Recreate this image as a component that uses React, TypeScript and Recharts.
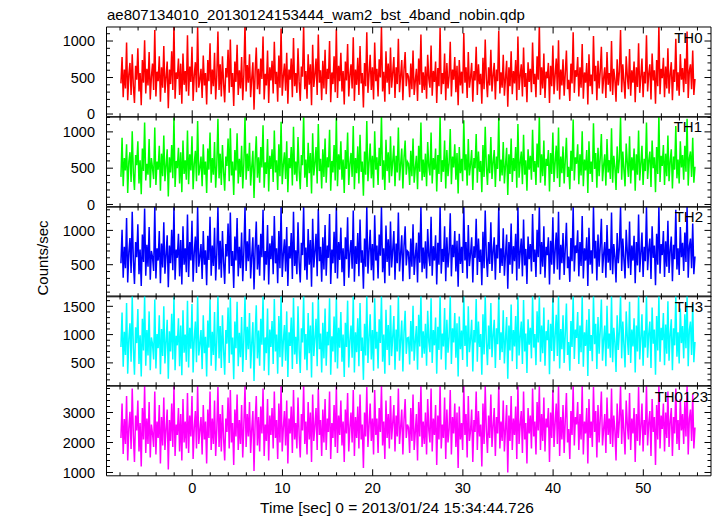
import { LineChart, Line, XAxis, YAxis } from 'recharts';

// light curve bins, seconds from 2013/01/24 15:34:44.726
const T_START = -7.9;
const T_BIN = 0.125;

const TH0 = [
  420, 780, 230, 610, 350, 980, 190, 540, 700, 260, 820, 380, 150, 660, 470,
  900, 310, 560, 120, 740, 430, 1010, 280, 620, 390, 850, 200, 510, 690, 330,
  1150, 240, 580, 450, 790, 170, 640, 360, 930, 290, 500, 720, 80, 610, 410,
  860, 330, 1240, 210, 570, 480, 760, 260, 690, 140, 830, 400, 590, 310, 1080,
  250, 650, 440, 920, 180, 530, 710, 300, 1190, 360, 470, 620, 220, 800, 390,
  560, 130, 740, 450, 970, 270, 610, 380, 840, 200, 520, 1130, 330, 680, 240,
  790, 420, 160, 630, 500, 880, 290, 1020, 370, 560, 110, 720, 440, 950, 260,
  600, 350, 780, 190, 540, 1250, 310, 670, 430, 820, 230, 490, 710, 60, 580,
  910, 340, 620, 270, 760, 480, 1060, 200, 550, 390, 870, 150, 640, 460, 730,
  280, 990, 410, 580, 170, 800, 360, 1170, 250, 520, 690, 320, 840, 140, 610,
  470, 760, 230, 1040, 380, 560, 290, 900, 440, 180, 650, 510, 1210, 340, 590,
  210, 820, 400, 680, 120, 950, 370, 540, 760, 260, 1090, 430, 600, 190, 730,
  350, 880, 270, 620, 480, 1000, 160, 570, 410, 790, 300, 1160, 220, 660, 450,
  840, 310, 590, 130, 720, 460, 960, 240, 530, 680, 350, 1050, 180, 610, 400,
  770, 260, 930, 420, 560, 90, 700, 380, 1120, 290, 540, 810, 330, 640, 200,
  980, 450, 620, 240, 750, 500, 1200, 310, 580, 170, 860, 430, 690, 270, 910,
  360, 560, 780, 220, 640, 410, 1030, 300, 520, 740, 190, 610, 850, 380, 560,
  510, 230, 690, 340, 870, 260, 450, 620, 180, 760, 400, 1090, 290, 570, 330,
  650, 210, 810, 480, 360, 940, 250, 590, 440, 720, 150, 630, 380, 1180, 270,
  560, 410, 830, 190, 700, 350, 520, 990, 240, 610, 470, 780, 300, 660, 120,
  740, 390, 580, 280, 1110, 430, 640, 220, 850, 360, 500, 700, 170, 590, 460,
  920, 260, 680, 410, 550, 140, 770, 340, 1020, 480, 230, 640, 390, 880, 310,
  530, 700, 200, 610, 450, 1140, 280, 570, 360, 810, 250, 490, 730, 100, 640,
  380, 860, 270, 590, 420, 740, 190, 1060, 330, 520, 680, 240, 910, 370, 560,
  160, 710, 440, 620, 300, 980, 410, 550, 230, 790, 470, 1230, 260, 640, 350,
  830, 220, 580, 490, 700, 150, 660, 380, 940, 270, 530, 760, 320, 1010, 200,
  610, 390, 750, 250, 560, 870, 340, 470, 180, 690, 420, 1120, 290, 600, 510,
  780, 240, 640, 360, 960, 210, 570, 430, 700, 130, 820, 380, 540, 270, 1070,
  450, 660, 190, 730, 350, 590, 920, 280, 490, 640, 220, 850, 400, 560, 310,
  1000, 260, 620, 470, 170, 750, 390, 580, 1150, 300, 680, 440, 210, 790, 520,
  340, 890, 250, 600, 430, 720, 160, 640, 370, 970, 290, 510, 760, 230, 580,
  420, 1080, 310, 550, 680, 200, 830, 460, 600, 140, 740, 380, 1210, 270, 620,
  490, 770, 230, 650, 350, 900, 280, 540, 710, 190, 610, 440, 1030, 320, 570,
  250, 820, 470, 630, 300, 760, 410, 1130, 220, 590, 680, 340, 870, 260, 480,
];

const TH1 = [
  380, 920, 250, 640, 470, 830, 160, 590, 720, 310, 1010, 430, 200, 680, 540,
  870, 290, 610, 140, 770, 460, 1130, 330, 560, 410, 900, 230, 640, 500, 350,
  1060, 270, 590, 480, 810, 190, 700, 390, 950, 320, 530, 760, 110, 650, 440,
  820, 360, 1200, 240, 600, 500, 780, 290, 720, 170, 880, 420, 610, 340, 1020,
  280, 690, 470, 940, 210, 560, 740, 320, 1150, 400, 500, 660, 250, 830, 410,
  590, 160, 770, 480, 990, 300, 640, 410, 860, 230, 550, 1180, 360, 700, 270,
  820, 450, 190, 660, 530, 910, 320, 1050, 400, 590, 130, 750, 470, 980, 290,
  630, 380, 810, 220, 570, 1220, 340, 700, 460, 850, 260, 520, 740, 90, 610,
  940, 370, 650, 300, 790, 510, 1090, 230, 580, 420, 900, 180, 670, 490, 760,
  310, 1020, 440, 610, 200, 830, 390, 1140, 280, 550, 720, 350, 870, 170, 640,
  500, 790, 260, 1070, 410, 590, 320, 930, 470, 210, 680, 540, 1230, 370, 620,
  240, 850, 430, 710, 150, 980, 400, 570, 790, 290, 1110, 460, 630, 220, 760,
  380, 910, 300, 650, 510, 1030, 190, 600, 440, 820, 330, 1190, 250, 690, 480,
  870, 340, 620, 160, 750, 490, 990, 270, 560, 710, 380, 1080, 210, 640, 430,
  800, 290, 960, 450, 590, 120, 730, 410, 1150, 320, 570, 840, 360, 670, 230,
  1010, 480, 650, 270, 780, 530, 1230, 340, 610, 200, 890, 460, 720, 300, 940,
  390, 590, 810, 250, 670, 440, 1060, 330, 550, 770, 220, 640, 880, 410, 590,
  560, 270, 740, 390, 910, 300, 500, 670, 210, 810, 450, 1130, 330, 620, 380,
  700, 250, 860, 520, 400, 990, 290, 640, 480, 770, 180, 680, 420, 1210, 310,
  610, 450, 880, 220, 750, 390, 570, 1040, 280, 660, 510, 830, 340, 710, 150,
  790, 430, 630, 320, 1160, 470, 690, 260, 900, 400, 550, 750, 200, 640, 500,
  970, 300, 730, 450, 600, 170, 820, 380, 1070, 520, 270, 690, 430, 930, 350,
  580, 750, 240, 660, 490, 1190, 320, 620, 400, 860, 290, 540, 780, 130, 690,
  420, 910, 310, 640, 460, 790, 230, 1110, 370, 570, 730, 280, 960, 410, 610,
  190, 760, 480, 670, 340, 1030, 450, 600, 270, 840, 510, 1220, 300, 690, 390,
  880, 260, 630, 530, 750, 180, 710, 420, 990, 310, 580, 810, 360, 1060, 240,
  660, 430, 800, 290, 610, 920, 380, 520, 210, 740, 460, 1170, 330, 650, 560,
  830, 280, 690, 400, 1010, 250, 620, 470, 750, 160, 870, 420, 590, 310, 1120,
  490, 710, 230, 780, 390, 640, 970, 320, 540, 690, 260, 900, 440, 610, 350,
  1050, 300, 670, 510, 200, 800, 430, 630, 1200, 340, 730, 480, 250, 840, 570,
  380, 940, 290, 650, 470, 770, 190, 690, 410, 1020, 330, 560, 810, 270, 630,
  460, 1130, 350, 600, 730, 240, 880, 500, 650, 170, 790, 420, 1230, 310, 670,
  530, 820, 270, 700, 390, 950, 320, 590, 760, 220, 660, 480, 1080, 360, 620,
  290, 870, 510, 680, 340, 810, 450, 1180, 260, 640, 730, 380, 920, 300, 520,
];

const TH2 = [
  520, 1010, 310, 760, 450, 1180, 240, 680, 890, 380, 1270, 560, 220, 830, 610,
  1090, 360, 720, 190, 940, 540, 1320, 340, 790, 470, 1050, 280, 700, 610, 410,
  1340, 300, 740, 560, 990, 230, 810, 460, 1120, 370, 640, 930, 170, 780, 520,
  1010, 420, 1340, 280, 720, 600, 950, 330, 860, 210, 1060, 500, 740, 390, 1230,
  320, 830, 560, 1140, 250, 680, 910, 380, 1340, 470, 610, 800, 290, 990, 500,
  710, 200, 920, 570, 1200, 340, 780, 480, 1040, 270, 660, 1340, 430, 850, 310,
  990, 540, 220, 800, 620, 1100, 370, 1260, 480, 700, 160, 910, 560, 1180, 330,
  760, 450, 970, 260, 690, 1340, 410, 840, 550, 1020, 300, 630, 900, 140, 740,
  1130, 430, 790, 340, 950, 610, 1300, 270, 700, 500, 1080, 210, 810, 580, 920,
  360, 1210, 520, 740, 230, 990, 450, 1340, 320, 660, 870, 400, 1050, 190, 770,
  590, 960, 290, 1270, 480, 710, 360, 1120, 540, 240, 820, 640, 1340, 420, 750,
  280, 1020, 500, 860, 180, 1170, 460, 690, 950, 330, 1310, 550, 760, 250, 900,
  430, 1080, 340, 780, 600, 1240, 220, 720, 520, 980, 380, 1340, 300, 830, 570,
  1040, 390, 740, 190, 900, 580, 1190, 310, 670, 860, 440, 1290, 250, 770, 510,
  960, 330, 1160, 530, 710, 150, 880, 470, 1340, 370, 690, 1010, 420, 800, 270,
  1220, 560, 780, 300, 940, 630, 1340, 390, 740, 230, 1070, 540, 870, 340, 1130,
  460, 710, 990, 280, 810, 520, 1260, 400, 660, 930, 260, 770, 1060, 490, 700,
  680, 290, 880, 470, 1090, 350, 620, 820, 240, 970, 530, 1340, 390, 750, 440,
  840, 300, 1020, 620, 480, 1200, 340, 770, 560, 930, 210, 820, 500, 1340, 370,
  730, 540, 1060, 260, 900, 460, 680, 1250, 330, 790, 610, 990, 400, 850, 180,
  950, 510, 760, 380, 1340, 560, 830, 300, 1080, 480, 660, 900, 240, 770, 600,
  1170, 350, 880, 540, 720, 200, 980, 450, 1290, 620, 320, 830, 510, 1120, 410,
  700, 900, 280, 790, 590, 1340, 380, 740, 480, 1030, 340, 650, 940, 150, 830,
  500, 1100, 370, 770, 550, 950, 270, 1340, 440, 680, 880, 330, 1160, 490, 730,
  220, 910, 580, 800, 400, 1240, 540, 720, 320, 1010, 610, 1340, 360, 830, 470,
  1060, 310, 760, 640, 900, 210, 850, 500, 1190, 370, 700, 970, 430, 1270, 280,
  790, 520, 960, 350, 730, 1110, 450, 620, 250, 890, 550, 1340, 400, 780, 670,
  1000, 330, 830, 480, 1210, 300, 740, 560, 900, 190, 1040, 500, 710, 370, 1340,
  590, 850, 270, 940, 470, 770, 1170, 380, 650, 830, 310, 1080, 530, 730, 420,
  1260, 360, 800, 610, 240, 960, 520, 760, 1340, 410, 880, 580, 300, 1010, 680,
  450, 1130, 350, 780, 560, 920, 230, 830, 490, 1230, 390, 670, 970, 320, 760,
  550, 1340, 420, 720, 880, 290, 1060, 600, 780, 200, 950, 500, 1340, 370, 800,
  640, 990, 320, 840, 470, 1140, 380, 710, 910, 260, 790, 580, 1300, 430, 740,
  350, 1050, 610, 820, 410, 970, 540, 1340, 310, 770, 880, 450, 1100, 360, 620,
];

const TH3 = [
  780, 1390, 430, 1050, 640, 1560, 310, 920, 1200, 520, 1680, 760, 290, 1130, 850,
  1450, 480, 990, 260, 1280, 720, 1680, 450, 1080, 630, 1410, 370, 950, 830, 560,
  1620, 400, 1010, 760, 1340, 300, 1100, 620, 1500, 490, 870, 1260, 220, 1060, 700,
  1370, 560, 1680, 370, 980, 810, 1290, 440, 1160, 280, 1430, 680, 1000, 520, 1600,
  420, 1120, 750, 1540, 330, 920, 1230, 510, 1680, 630, 830, 1080, 390, 1340, 670,
  960, 260, 1250, 770, 1620, 450, 1050, 640, 1400, 360, 890, 1680, 580, 1150, 410,
  1340, 730, 290, 1080, 840, 1480, 500, 1660, 650, 950, 210, 1230, 760, 1580, 440,
  1030, 600, 1310, 340, 930, 1680, 550, 1140, 740, 1380, 400, 850, 1220, 180, 1000,
  1520, 580, 1070, 450, 1280, 820, 1680, 360, 950, 670, 1460, 280, 1090, 780, 1240,
  480, 1630, 700, 1000, 310, 1330, 600, 1680, 430, 890, 1170, 540, 1410, 250, 1040,
  800, 1300, 390, 1650, 650, 960, 480, 1500, 730, 320, 1110, 860, 1680, 560, 1010,
  370, 1380, 670, 1160, 240, 1570, 620, 930, 1280, 440, 1680, 740, 1020, 330, 1210,
  580, 1460, 450, 1050, 810, 1640, 290, 970, 700, 1320, 510, 1680, 400, 1120, 770,
  1400, 520, 1000, 250, 1210, 780, 1600, 420, 900, 1160, 590, 1680, 330, 1040, 690,
  1290, 440, 1560, 710, 950, 200, 1190, 630, 1680, 500, 930, 1360, 560, 1080, 360,
  1640, 750, 1050, 400, 1270, 850, 1680, 520, 1000, 310, 1440, 730, 1170, 460, 1520,
  620, 960, 1330, 380, 1090, 700, 1680, 540, 890, 1250, 350, 1040, 1420, 660, 940,
  950, 470, 1240, 700, 1510, 540, 880, 1150, 380, 1350, 790, 1680, 590, 1060, 660,
  1190, 450, 1420, 870, 690, 1640, 500, 1080, 810, 1300, 310, 1140, 730, 1680, 560,
  1020, 790, 1470, 380, 1260, 680, 960, 1680, 480, 1110, 860, 1380, 590, 1200, 260,
  1320, 740, 1070, 550, 1680, 800, 1160, 430, 1500, 690, 920, 1260, 350, 1080, 860,
  1630, 520, 1230, 780, 1010, 290, 1360, 650, 1680, 870, 460, 1160, 740, 1560, 600,
  990, 1260, 410, 1110, 830, 1680, 550, 1040, 690, 1430, 490, 920, 1310, 220, 1160,
  720, 1530, 530, 1080, 790, 1330, 390, 1680, 630, 960, 1230, 480, 1610, 700, 1020,
  320, 1270, 820, 1120, 580, 1680, 770, 1010, 460, 1410, 860, 1680, 520, 1160, 670,
  1480, 450, 1060, 900, 1260, 300, 1190, 710, 1650, 530, 980, 1350, 620, 1680, 400,
  1100, 740, 1340, 500, 1020, 1550, 640, 870, 360, 1240, 780, 1680, 570, 1090, 940,
  1400, 480, 1160, 690, 1680, 430, 1040, 800, 1260, 270, 1450, 710, 990, 530, 1680,
  830, 1190, 390, 1310, 660, 1080, 1620, 540, 910, 1160, 440, 1510, 750, 1020, 590,
  1680, 510, 1120, 860, 340, 1340, 730, 1060, 1680, 580, 1230, 820, 420, 1410, 950,
  640, 1580, 500, 1090, 790, 1290, 330, 1160, 700, 1680, 560, 940, 1360, 450, 1070,
  770, 1680, 590, 1010, 1230, 410, 1480, 840, 1090, 290, 1330, 720, 1680, 520, 1120,
  900, 1380, 460, 1180, 660, 1590, 540, 1000, 1270, 370, 1110, 810, 1680, 610, 1040,
  490, 1460, 850, 1150, 580, 1360, 760, 1680, 440, 1080, 1230, 640, 1540, 510, 870,
];

const TH0123 = [
  2150, 3300, 1620, 2780, 1950, 3550, 1400, 2480, 3020, 1780, 3800, 2250, 1350, 2900, 2400,
  3400, 1700, 2650, 1200, 3150, 2100, 3880, 1650, 2800, 1950, 3350, 1500, 2600, 2300, 1850,
  3700, 1600, 2700, 2150, 3250, 1300, 2850, 1900, 3500, 1750, 2450, 3100, 1100, 2750, 2050,
  3300, 1850, 3880, 1550, 2600, 2250, 3150, 1700, 2950, 1400, 3450, 2000, 2700, 1800, 3650,
  1650, 2900, 2200, 3550, 1450, 2500, 3050, 1800, 3880, 1950, 2400, 2850, 1600, 3250, 2100,
  2700, 1300, 3100, 2150, 3700, 1750, 2800, 1950, 3400, 1550, 2450, 3850, 1850, 2950, 1700,
  3250, 2150, 1400, 2800, 2350, 3500, 1800, 3750, 2000, 2650, 1250, 3100, 2200, 3600, 1750,
  2750, 1950, 3250, 1500, 2600, 3880, 1850, 2950, 2200, 3350, 1650, 2450, 3050, 1050, 2700,
  3550, 1900, 2850, 1700, 3200, 2300, 3800, 1550, 2600, 2050, 3450, 1400, 2900, 2250, 3150,
  1800, 3700, 2150, 2750, 1450, 3300, 2000, 3880, 1700, 2500, 3050, 1900, 3400, 1300, 2800,
  2300, 3200, 1650, 3750, 2100, 2650, 1800, 3500, 2250, 1500, 2950, 2400, 3880, 1950, 2700,
  1600, 3350, 2100, 3000, 1350, 3600, 2050, 2550, 3150, 1750, 3800, 2250, 2750, 1550, 3100,
  2000, 3450, 1750, 2800, 2350, 3700, 1450, 2650, 2150, 3250, 1850, 3880, 1650, 2900, 2250,
  3400, 1900, 2700, 1350, 3100, 2300, 3650, 1700, 2500, 3000, 2000, 3750, 1550, 2850, 2150,
  3200, 1800, 3600, 2100, 2600, 1150, 3000, 2200, 3850, 1850, 2550, 3300, 2050, 2800, 1600,
  3750, 2250, 2800, 1650, 3150, 2350, 3880, 1900, 2700, 1450, 3400, 2150, 2950, 1800, 3550,
  2100, 2650, 3250, 1700, 2900, 2200, 3800, 1950, 2500, 3100, 1600, 2750, 3450, 2150, 2600,
  2500, 1650, 3150, 2050, 3600, 1750, 2350, 2950, 1400, 3350, 2200, 3880, 1850, 2700, 1950,
  3000, 1600, 3450, 2400, 2000, 3800, 1700, 2800, 2250, 3250, 1250, 2900, 2100, 3880, 1800,
  2600, 2150, 3500, 1450, 3100, 2000, 2450, 3750, 1600, 2850, 2300, 3300, 1850, 3000, 1150,
  3200, 2100, 2650, 1750, 3880, 2250, 2950, 1500, 3550, 2050, 2400, 3100, 1350, 2750, 2350,
  3700, 1750, 3050, 2200, 2600, 1200, 3300, 1950, 3880, 2400, 1650, 2900, 2150, 3600, 1850,
  2550, 3150, 1550, 2850, 2300, 3880, 1800, 2700, 2050, 3400, 1700, 2450, 3250, 1000, 2900,
  2050, 3550, 1750, 2800, 2250, 3200, 1450, 3880, 1950, 2600, 3050, 1650, 3700, 2100, 2650,
  1300, 3150, 2300, 2900, 1800, 3800, 2200, 2700, 1600, 3350, 2400, 3880, 1750, 2950, 2050,
  3500, 1700, 2800, 2500, 3150, 1350, 3000, 2150, 3750, 1850, 2650, 3300, 1950, 3880, 1550,
  2850, 2100, 3250, 1650, 2750, 3650, 2000, 2450, 1450, 3050, 2250, 3880, 1900, 2850, 2600,
  3350, 1750, 2950, 2100, 3880, 1600, 2700, 2300, 3150, 1300, 3450, 2150, 2700, 1850, 3850,
  2350, 3050, 1500, 3250, 2000, 2800, 3700, 1900, 2450, 2950, 1650, 3500, 2250, 2800, 1950,
  3800, 1850, 2900, 2400, 1400, 3300, 2150, 2750, 3880, 1950, 3100, 2350, 1600, 3400, 2600,
  2100, 3650, 1750, 2800, 2300, 3150, 1350, 2950, 2050, 3850, 1900, 2550, 3300, 1700, 2750,
  2250, 3880, 1900, 2650, 3050, 1550, 3450, 2350, 2850, 1250, 3250, 2100, 3880, 1800, 2900,
  2450, 3300, 1700, 3000, 2150, 3700, 1850, 2700, 3150, 1550, 2850, 2300, 3800, 1950, 2750,
  1750, 3450, 2400, 2950, 1950, 3350, 2200, 3880, 1600, 2800, 3100, 2050, 3600, 1800, 2500,
];

const X_MAJOR = [0, 10, 20, 30, 40, 50];
const X_MINOR_STEP = 2;
const X_DOMAIN: [number, number] = [-9.5, 57.5];

const PANELS = [
  { name: 'TH0', color: '#ff0000', values: TH0, domain: [-38, 1192], major: [0, 500, 1000], minor: 100, labelX: 702.5 },
  { name: 'TH1', color: '#00ff00', values: TH1, domain: [-32, 1205], major: [0, 500, 1000], minor: 100, labelX: 702 },
  { name: 'TH2', color: '#0000ff', values: TH2, domain: [32, 1341], major: [500, 1000], minor: 100, labelX: 703 },
  { name: 'TH3', color: '#00ffff', values: TH3, domain: [95, 1682], major: [500, 1000, 1500], minor: 100, labelX: 703 },
  { name: 'TH0123', color: '#ff00ff', values: TH0123, domain: [890, 3883], major: [1000, 2000, 3000], minor: 200, labelX: 708 },
];

const W = 717;
const H = 516;
const LEFT = 106.5;
const RIGHT = 711;
const TOP = 27;
const BOTTOM = 476;
const PH = (BOTTOM - TOP) / PANELS.length;
const PAD = 10;
const XLAB = 30;
const FONT = '"Liberation Sans", Arial, Helvetica, sans-serif';

const stepTicks = (lo: number, hi: number, step: number) => {
  const out: number[] = [];
  for (let v = Math.ceil(lo / step) * step; v <= hi + 1e-9; v += step) out.push(Math.round(v * 1000) / 1000);
  return out;
};

const X_TICKS = stepTicks(X_DOMAIN[0], X_DOMAIN[1], X_MINOR_STEP);

const isMajor = (v: number, majors: number[]) => majors.some((m) => Math.abs(m - v) < 1e-6);

// ticks point into the plot; majors longer and labelled where asked
const makeTick = (side: 'bottom' | 'top' | 'left' | 'right', majors: number[], label: boolean) => (p: any) => {
  const x = Number(p.x);
  const y = Number(p.y);
  const v = p.payload.value;
  const big = isMajor(v, majors);
  const len = big ? 6.5 : 3.5;
  let x2 = x;
  let y2 = y;
  if (side === 'bottom') y2 = y - len;
  if (side === 'top') y2 = y + len;
  if (side === 'left') x2 = x + len;
  if (side === 'right') x2 = x - len;
  return (
    <g>
      <line x1={x} y1={y} x2={x2} y2={y2} stroke="#000" strokeWidth={1} />
      {label && big && side === 'left' && (
        <text x={x - 11.5} y={y} dy="0.36em" textAnchor="end" fontSize={14.5} fontFamily={FONT} fill="#000">
          {v}
        </text>
      )}
      {label && big && side === 'bottom' && (
        <text x={x} y={y + 12} dy="0.36em" textAnchor="middle" fontSize={14.5} fontFamily={FONT} fill="#000">
          {v}
        </text>
      )}
    </g>
  );
};

const Panel = ({ idx }: { idx: number }) => {
  const cfg = PANELS[idx];
  const last = idx === PANELS.length - 1;
  const data = cfg.values.map((v, i) => ({ t: T_START + i * T_BIN, v }));
  const yTicks = stepTicks(cfg.domain[0], cfg.domain[1], cfg.minor);
  const extra = last ? XLAB : 0;
  const chartH = PH + 2 * PAD + extra;
  const axisLine = { stroke: '#000', strokeWidth: 1 };
  return (
    <div style={{ position: 'absolute', left: 0, top: TOP + idx * PH - PAD, width: W, height: chartH }}>
      <LineChart width={W} height={chartH} data={data} margin={{ top: PAD - 1, right: 0, bottom: PAD - 1, left: 0 }}>
        <XAxis
          xAxisId="b"
          type="number"
          dataKey="t"
          domain={X_DOMAIN}
          allowDataOverflow
          ticks={X_TICKS}
          interval={0}
          height={1 + extra}
          tickSize={0}
          tickMargin={0}
          tickLine={false}
          axisLine={axisLine}
          tick={makeTick('bottom', X_MAJOR, last)}
        />
        <XAxis
          xAxisId="t"
          orientation="top"
          type="number"
          dataKey="t"
          domain={X_DOMAIN}
          allowDataOverflow
          ticks={X_TICKS}
          interval={0}
          height={1}
          tickSize={0}
          tickMargin={0}
          tickLine={false}
          axisLine={axisLine}
          tick={makeTick('top', X_MAJOR, false)}
        />
        <YAxis
          yAxisId="l"
          type="number"
          domain={cfg.domain}
          allowDataOverflow
          ticks={yTicks}
          interval={0}
          width={LEFT}
          tickSize={0}
          tickMargin={0}
          tickLine={false}
          axisLine={axisLine}
          tick={makeTick('left', cfg.major, true)}
        />
        <YAxis
          yAxisId="r"
          orientation="right"
          type="number"
          domain={cfg.domain}
          allowDataOverflow
          ticks={yTicks}
          interval={0}
          width={W - RIGHT}
          tickSize={0}
          tickMargin={0}
          tickLine={false}
          axisLine={axisLine}
          tick={makeTick('right', cfg.major, false)}
        />
        <Line
          xAxisId="b"
          yAxisId="l"
          type="linear"
          dataKey="v"
          stroke={cfg.color}
          strokeWidth={1.5}
          strokeLinejoin="miter"
          dot={false}
          activeDot={false}
          isAnimationActive={false}
        />
      </LineChart>
    </div>
  );
};

export default function App() {
  return (
    <div style={{ position: 'absolute', left: 0, top: 0, width: W, height: H, background: '#fff', overflow: 'hidden' }}>
      {PANELS.map((_, i) => (
        <Panel key={i} idx={i} />
      ))}
      <svg width={W} height={H} style={{ position: 'absolute', left: 0, top: 0, pointerEvents: 'none' }}>
        <text x={107} y={19.5} fontSize={15} fontFamily={FONT} fill="#000">
          ae807134010_20130124153444_wam2_bst_4band_nobin.qdp
        </text>
        {PANELS.map((p, i) => (
          <text key={p.name} x={p.labelX} y={TOP + i * PH + 15.5} textAnchor="end" fontSize={15} fontFamily={FONT} fill="#000">
            {p.name}
          </text>
        ))}
        <text
          x={43}
          y={258}
          transform="rotate(-90 43 258)"
          textAnchor="middle"
          dy="0.35em"
          fontSize={15}
          fontFamily={FONT}
          fill="#000"
        >
          Counts/sec
        </text>
        <text x={397} y={513} textAnchor="middle" fontSize={15.5} fontFamily={FONT} fill="#000">
          Time [sec] 0 = 2013/01/24 15:34:44.726
        </text>
      </svg>
    </div>
  );
}
